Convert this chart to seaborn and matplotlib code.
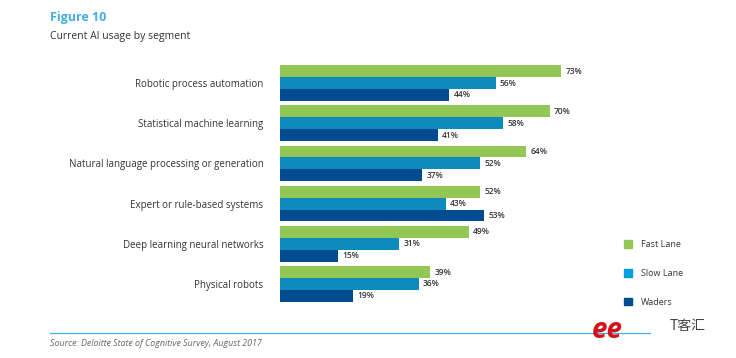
import matplotlib
matplotlib.use('Agg')
import matplotlib.pyplot as plt
import seaborn as sns
import pandas as pd
from matplotlib.patches import Patch

categories = [
    'Robotic process automation',
    'Statistical machine learning',
    'Natural language processing or generation',
    'Expert or rule-based systems',
    'Deep learning neural networks',
    'Physical robots',
]
segments = ['Fast Lane', 'Slow Lane', 'Waders']
fast_lane = [73, 70, 64, 52, 49, 39]
slow_lane = [56, 58, 52, 43, 31, 36]
waders = [44, 41, 37, 53, 15, 19]

bar_colors = ['#92c756', '#0e8bbd', '#014b90']
legend_colors = ['#92c756', '#00a0dc', '#014b90']

rows = []
for seg, vals in zip(segments, [fast_lane, slow_lane, waders]):
    for cat, v in zip(categories, vals):
        rows.append({'category': cat, 'segment': seg, 'value': v})
df = pd.DataFrame(rows)

sns.set_style('white')
plt.rcParams['font.family'] = ['Open Sans', 'DejaVu Sans']

fig = plt.figure(figsize=(7.36, 3.58), dpi=100)
ax = fig.add_axes([280 / 736, 1 - 304 / 358, 385 / 736, 241 / 358])

sns.barplot(
    data=df,
    y='category',
    x='value',
    hue='segment',
    order=categories,
    hue_order=segments,
    palette=bar_colors,
    width=0.885,
    saturation=1,
    orient='h',
    legend=False,
    linewidth=0,
    ax=ax,
)

for container in ax.containers:
    ax.bar_label(
        container,
        labels=[f'{int(v)}%' for v in container.datavalues],
        padding=3,
        fontsize=6,
        fontweight='semibold',
        color='#333333',
    )

ax.set_xlim(0, 100)
ax.set_xlabel('')
ax.set_ylabel('')
ax.set_xticks([])
ax.tick_params(axis='y', length=0, pad=12, labelsize=7, labelcolor='#333333')
sns.despine(ax=ax, left=True, bottom=True)

handles = [Patch(color=c, label=s) for c, s in zip(legend_colors, segments)]
fig.legend(
    handles=handles,
    loc='upper left',
    bbox_to_anchor=(616 / 736, 1 - 232 / 358),
    frameon=False,
    fontsize=6.5,
    labelcolor='#333333',
    handlelength=0.9,
    handleheight=0.9,
    handletextpad=1.0,
    labelspacing=2.2,
)

fig.text(50 / 736, 1 - 18 / 358, 'Figure 10', fontsize=9, fontweight='bold',
         color='#45ade2', va='center')
fig.text(50 / 736, 1 - 36 / 358, 'Current AI usage by segment', fontsize=7.5,
         color='#333333', va='center')

fig.add_artist(plt.Line2D([50 / 736, 650 / 736], [1 - 333 / 358, 1 - 333 / 358],
                          color='#3fb0e5', linewidth=0.9))
fig.text(50 / 736, 1 - 344 / 358, 'Source: Deloitte State of Cognitive Survey, August 2017',
         fontsize=6.4, style='italic', color='#666666', va='center')

# watermark
fig.text(592 / 736, 1 - 330 / 358, 'ee', fontsize=20, style='italic',
         fontweight='bold', color='#d0141c', va='center')
fig.text(670 / 736, 1 - 326 / 358, 'T客汇', fontsize=10, color='#444444', va='center',
         family=['Noto Sans CJK SC', 'DejaVu Sans'])

fig.savefig('out.png', dpi=100)
plt.close(fig)
